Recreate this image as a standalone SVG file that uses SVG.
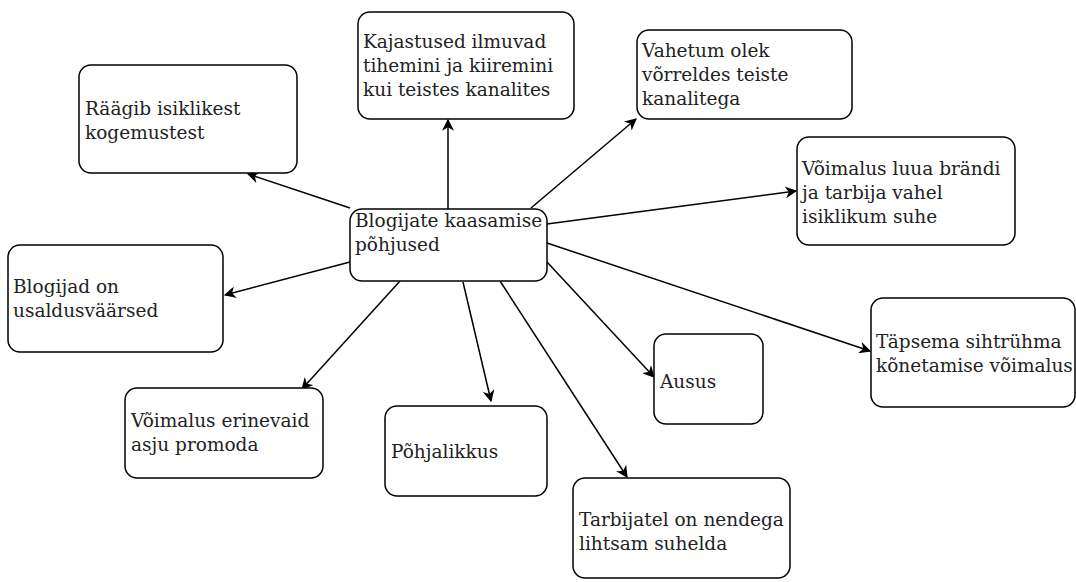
<svg xmlns="http://www.w3.org/2000/svg" width="1076" height="582" viewBox="0 0 1076 582">
<defs>
<marker id="ah" viewBox="0 0 10 10" refX="9" refY="5" markerWidth="12" markerHeight="12" markerUnits="userSpaceOnUse" orient="auto">
<path d="M0,0 L10,5 L0,10 L3,5 Z" fill="#000"/>
</marker>
<style>
.box{fill:#fff;stroke:#000;stroke-width:1.5}
.t{font-family:"DejaVu Serif",serif;font-size:18.5px;fill:#222}
.c{stroke:#000;stroke-width:1.5;fill:none;marker-end:url(#ah)}
</style>
</defs>
<rect width="1076" height="582" fill="#fff"/>
<g id="connectors">
<line class="c" x1="350" y1="208" x2="248" y2="174"/>
<line class="c" x1="448" y1="209" x2="448" y2="120"/>
<line class="c" x1="531" y1="208" x2="636" y2="119"/>
<line class="c" x1="547" y1="224" x2="796" y2="191"/>
<line class="c" x1="547" y1="243" x2="870" y2="351"/>
<line class="c" x1="547" y1="262" x2="654" y2="377"/>
<line class="c" x1="500" y1="281" x2="627" y2="477"/>
<line class="c" x1="463" y1="282" x2="491" y2="401"/>
<line class="c" x1="400" y1="281" x2="302" y2="389"/>
<line class="c" x1="350" y1="262" x2="225" y2="295"/>
</g>
<g id="center">
<rect class="box" x="350" y="209" width="197" height="72" rx="12"/>
<text class="t" x="355" y="227">Blogijate kaasamise</text>
<text class="t" x="355" y="251">põhjused</text>
</g>
<g id="n1">
<rect class="box" x="79" y="65" width="218" height="108" rx="12"/>
<text class="t" x="85" y="115">Räägib isiklikest</text>
<text class="t" x="85" y="139">kogemustest</text>
</g>
<g id="n2">
<rect class="box" x="358" y="12" width="216" height="107" rx="12"/>
<text class="t" x="363" y="48">Kajastused ilmuvad</text>
<text class="t" x="363" y="72">tihemini ja kiiremini</text>
<text class="t" x="363" y="96">kui teistes kanalites</text>
</g>
<g id="n3">
<rect class="box" x="637" y="30" width="215" height="89" rx="12"/>
<text class="t" x="642" y="57">Vahetum olek</text>
<text class="t" x="642" y="81">võrreldes teiste</text>
<text class="t" x="642" y="105">kanalitega</text>
</g>
<g id="n4">
<rect class="box" x="797" y="137" width="218" height="108" rx="12"/>
<text class="t" x="802" y="175">Võimalus luua brändi</text>
<text class="t" x="802" y="199">ja tarbija vahel</text>
<text class="t" x="802" y="223">isiklikum suhe</text>
</g>
<g id="n5">
<rect class="box" x="8" y="245" width="215" height="107" rx="12"/>
<text class="t" x="13" y="293">Blogijad on</text>
<text class="t" x="13" y="317">usaldusväärsed</text>
</g>
<g id="n6">
<rect class="box" x="125" y="388" width="198" height="90" rx="12"/>
<text class="t" x="131" y="427">Võimalus erinevaid</text>
<text class="t" x="131" y="451">asju promoda</text>
</g>
<g id="n7">
<rect class="box" x="385" y="406" width="162" height="90" rx="12"/>
<text class="t" x="391" y="458">Põhjalikkus</text>
</g>
<g id="n8">
<rect class="box" x="573" y="478" width="217" height="100" rx="12"/>
<text class="t" x="579" y="526">Tarbijatel on nendega</text>
<text class="t" x="579" y="550">lihtsam suhelda</text>
</g>
<g id="n9">
<rect class="box" x="654" y="334" width="109" height="90" rx="12"/>
<text class="t" x="660" y="388">Ausus</text>
</g>
<g id="n10">
<rect class="box" x="871" y="298" width="204" height="109" rx="12"/>
<text class="t" x="876" y="348">Täpsema sihtrühma</text>
<text class="t" x="876" y="372">kõnetamise võimalus</text>
</g>
</svg>
